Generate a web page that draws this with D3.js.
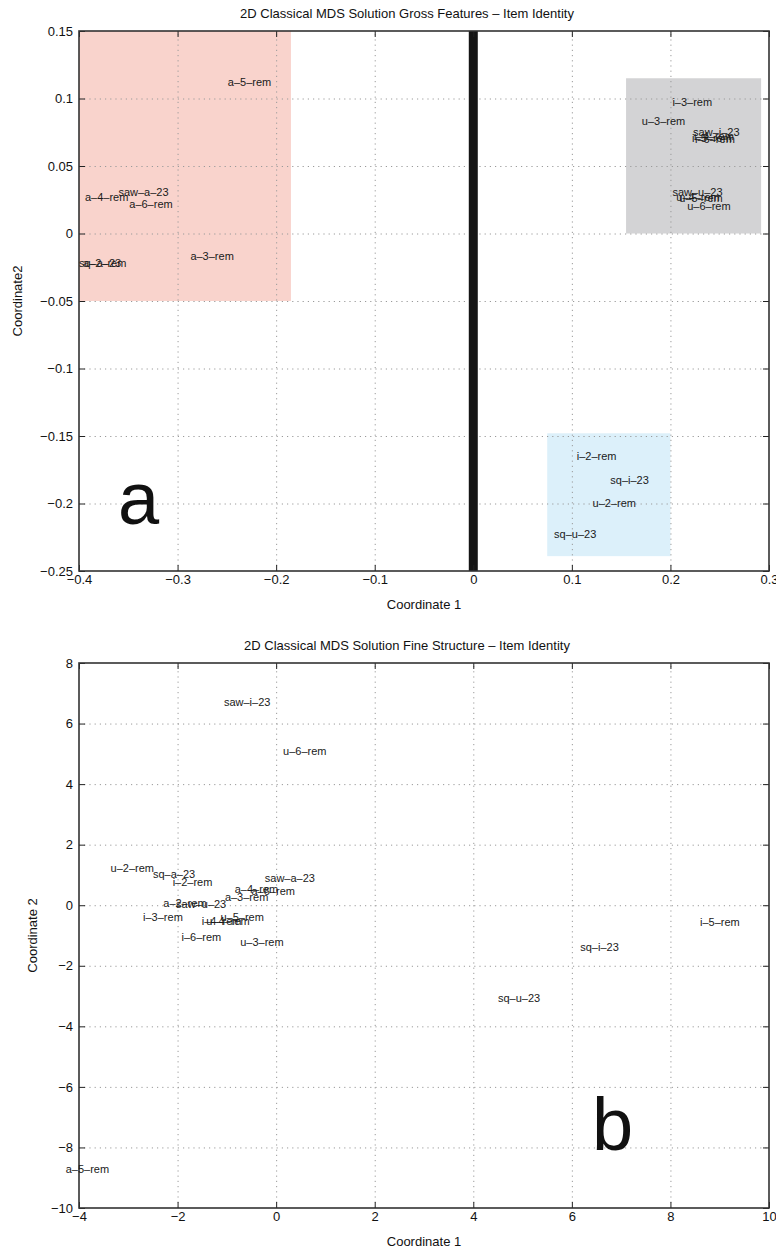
<!DOCTYPE html>
<html>
<head>
<meta charset="utf-8">
<script src="https://cdn.jsdelivr.net/npm/d3@7"></script>
<style>
  html, body { margin: 0; padding: 0; background: #fff; }
  svg { display: block; font-family: "Liberation Sans", Arial, sans-serif; }
  .tick text { font-size: 13px; fill: #111; }
  .frame path.domain { display: none; }
  .frame .tick line { stroke: #222; stroke-width: 1; }
  .grid path.domain { display: none; }
  .grid .tick line { stroke: #9a9a9a; stroke-width: 1; stroke-dasharray: 1.2 4; }
  .item { font-size: 11px; fill: #1a1a1a; }
</style>
</head>
<body>
<svg id="chart" width="776" height="1249"></svg>
<script>
// ---------- Panel a: gross features ----------
const grossLabels = [
  "a–5–rem", "a–4–rem", "saw–a–23", "a–6–rem", "a–3–rem", "sq–a–23", "a–2–rem",
  "i–3–rem", "u–3–rem", "saw–i–23", "i–4–rem", "i–5–rem", "i–6–rem",
  "saw–u–23", "u–4–rem", "u–5–rem", "u–6–rem",
  "i–2–rem", "sq–i–23", "u–2–rem", "sq–u–23"
];
const grossX = [
  -0.249, -0.394, -0.360, -0.349, -0.287, -0.400, -0.396,
  0.202, 0.171, 0.223, 0.224, 0.222, 0.225,
  0.202, 0.206, 0.209, 0.217,
  0.105, 0.139, 0.121, 0.082
];
const grossY = [
  0.112, 0.027, 0.031, 0.022, -0.017, -0.022, -0.022,
  0.097, 0.083, 0.075, 0.072, 0.071, 0.070,
  0.031, 0.027, 0.026, 0.020,
  -0.165, -0.183, -0.200, -0.223
];
const grossXTicks = [-0.4, -0.3, -0.2, -0.1, 0, 0.1, 0.2, 0.3];
const grossXTickLabels = ["−0.4", "−0.3", "−0.2", "−0.1", "0", "0.1", "0.2", "0.3"];
const grossYTicks = [-0.25, -0.2, -0.15, -0.1, -0.05, 0, 0.05, 0.1, 0.15];
const grossYTickLabels = ["−0.25", "−0.2", "−0.15", "−0.1", "−0.05", "0", "0.05", "0.1", "0.15"];

// Shaded cluster regions (data units)
const regionX0 = [-0.4, 0.155, 0.075];
const regionX1 = [-0.185, 0.292, 0.2];
const regionY0 = [-0.05, 0.0, -0.239];
const regionY1 = [0.15, 0.115, -0.148];
const regionFill = ["#f9d3cc", "#d3d3d5", "#dcf0fa"];

// ---------- Panel b: fine structure ----------
const fineLabels = [
  "saw–i–23", "u–6–rem",
  "u–2–rem", "sq–a–23", "i–2–rem", "saw–a–23",
  "a–4–rem", "a–6–rem", "a–3–rem", "a–2–rem", "saw–u–23",
  "i–3–rem", "i–4–rem", "u–5–rem", "u–4–rem",
  "i–6–rem", "u–3–rem",
  "i–5–rem", "sq–i–23", "sq–u–23", "a–5–rem"
];
const fineX = [
  -1.06, 0.14,
  -3.36, -2.50, -2.10, -0.23,
  -0.84, -0.50, -1.04, -2.29, -2.03,
  -2.70, -1.51, -1.13, -1.42,
  -1.92, -0.73,
  8.60, 6.17, 4.50, -4.27
];
const fineY = [
  6.71, 5.09,
  1.22, 1.02, 0.76, 0.91,
  0.53, 0.47, 0.28, 0.06, 0.04,
  -0.38, -0.52, -0.38, -0.54,
  -1.04, -1.22,
  -0.55, -1.38, -3.06, -8.71
];
const fineXTicks = [-4, -2, 0, 2, 4, 6, 8, 10];
const fineXTickLabels = ["−4", "−2", "0", "2", "4", "6", "8", "10"];
const fineYTicks = [-10, -8, -6, -4, -2, 0, 2, 4, 6, 8];
const fineYTickLabels = ["−10", "−8", "−6", "−4", "−2", "0", "2", "4", "6", "8"];

const svg = d3.select("#chart");

function panel(opts) {
  const { left, right, top, bottom } = opts.box;
  const w = right - left, h = bottom - top;
  const x = d3.scaleLinear().domain(opts.xDomain).range([left, right]);
  const y = d3.scaleLinear().domain(opts.yDomain).range([bottom, top]);
  const g = svg.append("g");

  // background regions
  if (opts.regions) {
    opts.regions.forEach(r => {
      g.append("rect")
        .attr("x", x(r.x0)).attr("y", y(r.y1))
        .attr("width", x(r.x1) - x(r.x0)).attr("height", y(r.y0) - y(r.y1))
        .attr("fill", r.fill);
    });
  }

  // dotted grid
  const innerX = opts.xTicks.slice(1, -1), innerY = opts.yTicks.slice(1, -1);
  g.append("g").attr("class", "grid")
    .attr("transform", `translate(0,${bottom})`)
    .call(d3.axisBottom(x).tickValues(innerX).tickSize(-h).tickFormat(""));
  g.append("g").attr("class", "grid")
    .attr("transform", `translate(${left},0)`)
    .call(d3.axisLeft(y).tickValues(innerY).tickSize(-w).tickFormat(""));

  // vertical zero bar
  if (opts.zeroBar) {
    g.append("line")
      .attr("x1", x(0)).attr("x2", x(0))
      .attr("y1", y(opts.yDomain[1])).attr("y2", y(opts.yDomain[0]))
      .attr("stroke", "#151515").attr("stroke-width", 9);
  }

  // axes with inward ticks on all sides
  const xl = d => opts.xTickLabels[opts.xTicks.indexOf(d)];
  const yl = d => opts.yTickLabels[opts.yTicks.indexOf(d)];
  g.append("g").attr("class", "frame")
    .attr("transform", `translate(0,${bottom})`)
    .call(d3.axisBottom(x).tickValues(opts.xTicks).tickSize(-6).tickPadding(4).tickFormat(xl));
  g.append("g").attr("class", "frame")
    .attr("transform", `translate(0,${top})`)
    .call(d3.axisTop(x).tickValues(opts.xTicks).tickSize(-6).tickFormat(""));
  g.append("g").attr("class", "frame")
    .attr("transform", `translate(${left},0)`)
    .call(d3.axisLeft(y).tickValues(opts.yTicks).tickSize(-6).tickPadding(6).tickFormat(yl));
  g.append("g").attr("class", "frame")
    .attr("transform", `translate(${right},0)`)
    .call(d3.axisRight(y).tickValues(opts.yTicks).tickSize(-6).tickFormat(""));

  g.append("rect")
    .attr("x", left).attr("y", top).attr("width", w).attr("height", h)
    .attr("fill", "none").attr("stroke", "#333").attr("stroke-width", 1.6);

  // item labels
  g.selectAll("text.item")
    .data(opts.labels.map((t, i) => ({ t, x: opts.xs[i], y: opts.ys[i] })))
    .join("text")
    .attr("class", "item")
    .attr("x", d => x(d.x))
    .attr("y", d => y(d.y))
    .attr("dy", "0.35em")
    .text(d => d.t);

  // titles
  g.append("text")
    .attr("x", opts.titleX).attr("y", top - 13)
    .attr("text-anchor", "middle").attr("font-size", 13).attr("fill", "#111")
    .text(opts.title);
  g.append("text")
    .attr("x", (left + right) / 2).attr("y", bottom + 38)
    .attr("text-anchor", "middle").attr("font-size", 13).attr("fill", "#111")
    .text("Coordinate 1");
  g.append("text")
    .attr("transform", `translate(${opts.yLabelX},${(top + bottom) / 2}) rotate(-90)`)
    .attr("text-anchor", "middle").attr("font-size", 13).attr("fill", "#111")
    .text(opts.yLabel);

  // panel letter
  g.append("text")
    .attr("x", opts.letter.x).attr("y", opts.letter.y)
    .attr("font-size", 74).attr("fill", "#111")
    .text(opts.letter.t);
}

panel({
  box: { left: 79, right: 769, top: 31, bottom: 571 },
  xDomain: [-0.4, 0.3], yDomain: [-0.25, 0.15],
  xTicks: grossXTicks, xTickLabels: grossXTickLabels,
  yTicks: grossYTicks, yTickLabels: grossYTickLabels,
  regions: regionFill.map((f, i) => ({ x0: regionX0[i], x1: regionX1[i], y0: regionY0[i], y1: regionY1[i], fill: f })),
  zeroBar: true,
  labels: grossLabels, xs: grossX, ys: grossY,
  title: "2D Classical MDS Solution Gross Features – Item Identity",
  titleX: 407,
  yLabel: "Coordinate2", yLabelX: 22,
  letter: { t: "a", x: 118, y: 524 }
});

panel({
  box: { left: 79, right: 769, top: 663, bottom: 1208 },
  xDomain: [-4, 10], yDomain: [-10, 8],
  xTicks: fineXTicks, xTickLabels: fineXTickLabels,
  yTicks: fineYTicks, yTickLabels: fineYTickLabels,
  labels: fineLabels, xs: fineX, ys: fineY,
  title: "2D Classical MDS Solution Fine Structure – Item Identity",
  titleX: 407,
  yLabel: "Coordinate 2", yLabelX: 37,
  letter: { t: "b", x: 592, y: 1150 }
});
</script>
</body>
</html>
